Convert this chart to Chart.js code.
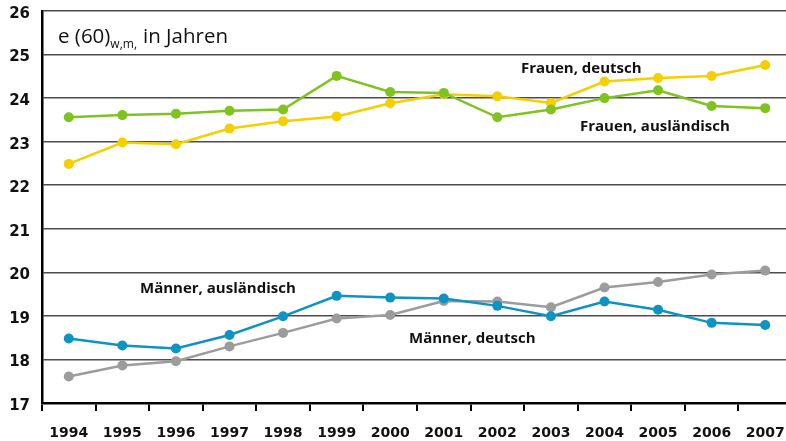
<!DOCTYPE html>
<html>
<head>
<meta charset="utf-8">
<script src="https://cdn.jsdelivr.net/npm/chart.js@4/dist/chart.umd.min.js"></script>
<style>
  html, body { margin: 0; padding: 0; background: #fff; overflow: hidden; }
  #wrap { position: relative; width: 800px; height: 441px; }
</style>
</head>
<body>
<div id="wrap"><canvas id="c" width="800" height="441"></canvas></div>
<script>
// Remaining life expectancy at age 60, in years
const years = ['1994','1995','1996','1997','1998','1999','2000','2001','2002','2003','2004','2005','2006','2007'];
const frauenGruen = [23.56, 23.61, 23.64, 23.71, 23.74, 24.51, 24.14, 24.12, 23.56, 23.74, 24.00, 24.18, 23.82, 23.77];
const frauenGelb  = [22.49, 22.98, 22.94, 23.30, 23.47, 23.58, 23.88, 24.09, 24.04, 23.89, 24.38, 24.46, 24.51, 24.76];
const maennerBlau = [18.48, 18.32, 18.25, 18.56, 18.99, 19.46, 19.42, 19.40, 19.23, 18.99, 19.33, 19.14, 18.84, 18.79];
const maennerGrau = [17.61, 17.86, 17.96, 18.30, 18.61, 18.94, 19.02, 19.34, 19.33, 19.20, 19.65, 19.78, 19.95, 20.04];
const yTicks = [17, 18, 19, 20, 21, 22, 23, 24, 25, 26];

const GREEN = '#7fc31f', YELLOW = '#f6cf00', BLUE = '#0e94c2', GRAY = '#9c9c9c';

function series(label, data, color) {
  return {
    label, data,
    borderColor: color, backgroundColor: color,
    borderWidth: 2.5, pointRadius: 5, pointHoverRadius: 5,
    pointBorderWidth: 0, tension: 0
  };
}

// Inline series names and the axis caption
const annotations = {
  id: 'annotations',
  afterDraw(chart) {
    const ctx = chart.ctx;
    ctx.save();
    ctx.fillStyle = '#111';
    ctx.textBaseline = 'alphabetic';
    ctx.textAlign = 'left';
    // caption with subscript
    ctx.font = '20.5px "Open Sans", sans-serif';
    ctx.fillText('e (60)', 58, 43);
    let x = 58 + ctx.measureText('e (60)').width;
    ctx.font = '12px "Open Sans", sans-serif';
    ctx.fillText('w,m,', x, 48);
    x += ctx.measureText('w,m,').width + 6;
    ctx.font = '20.5px "Open Sans", sans-serif';
    ctx.fillText('in Jahren', x, 43);
    // series names
    ctx.font = 'bold 15px "Open Sans", sans-serif';
    ctx.fillText('Frauen, deutsch', 521, 73);
    ctx.fillText('Frauen, ausländisch', 580, 131);
    ctx.fillText('Männer, ausländisch', 140, 293);
    ctx.fillText('Männer, deutsch', 409, 343);
    ctx.restore();
  }
};

new Chart(document.getElementById('c'), {
  type: 'line',
  data: {
    labels: years,
    datasets: [
      series('Frauen, ausländisch', frauenGruen, GREEN),
      series('Frauen, deutsch', frauenGelb, YELLOW),
      series('Männer, ausländisch', maennerBlau, BLUE),
      series('Männer, deutsch', maennerGrau, GRAY)
    ]
  },
  options: {
    responsive: false,
    animation: false,
    events: [],
    layout: { padding: { top: 11, right: 8, left: 0, bottom: 0 } },
    plugins: { legend: { display: false }, tooltip: { enabled: false } },
    scales: {
      x: {
        offset: true,
        grid: { drawOnChartArea: false, drawTicks: true, tickLength: 8, offset: true, color: '#000', lineWidth: 2 },
        border: { display: true, color: '#000', width: 2.5 },
        ticks: { color: '#111', font: { family: '"DejaVu Sans", sans-serif', size: 14, weight: 'bold' }, padding: 14, maxRotation: 0, autoSkip: false },
        afterFit(s) { s.height = 38; s.paddingLeft = 0; s.paddingRight = 0; }
      },
      y: {
        min: 17, max: 26,
        afterBuildTicks(s) { s.ticks = yTicks.map(v => ({ value: v })); },
        grid: { color: '#4d4d4d', lineWidth: 1.5, drawTicks: false },
        border: { display: true, color: '#000', width: 2.5 },
        ticks: { color: '#111', font: { family: '"DejaVu Sans", sans-serif', size: 15, weight: 'bold' }, padding: 12, labelOffset: 3 },
        afterFit(s) { s.width = 42; s.paddingTop = 0; s.paddingBottom = 0; }
      }
    }
  },
  plugins: [annotations]
});
</script>
</body>
</html>
